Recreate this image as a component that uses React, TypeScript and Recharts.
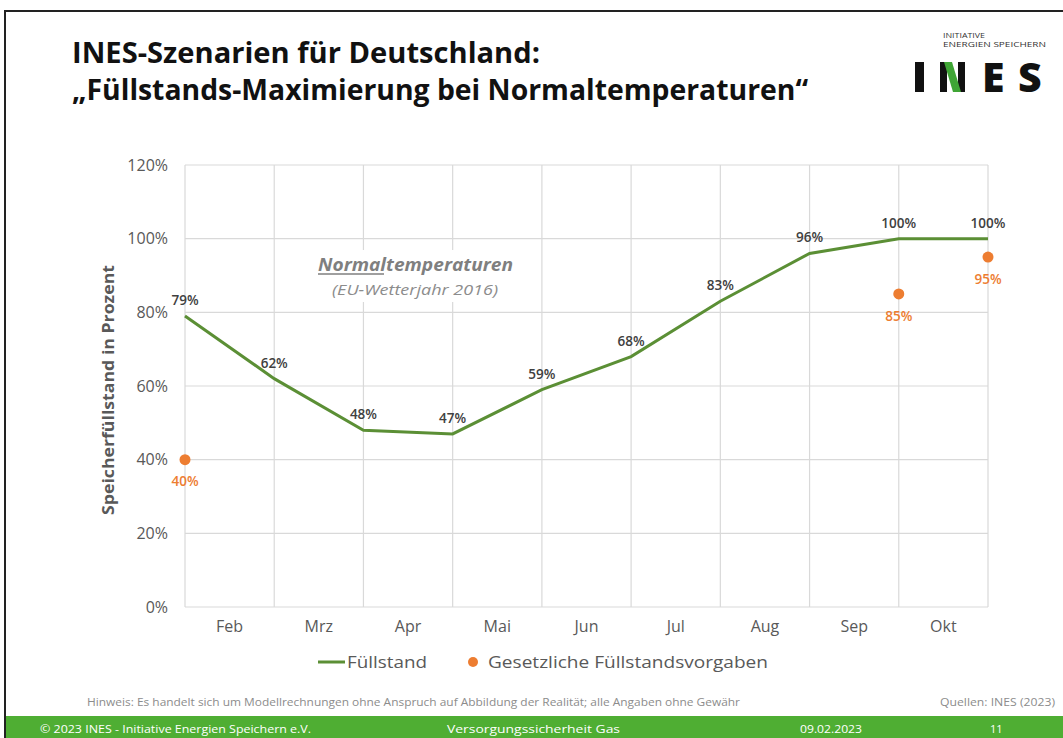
import React from 'react';
import {
  ComposedChart,
  Line,
  XAxis,
  YAxis,
  CartesianGrid,
  LabelList,
} from 'recharts';

const months = ['Feb', 'Mrz', 'Apr', 'Mai', 'Jun', 'Jul', 'Aug', 'Sep', 'Okt'];
const fuellstand = [79, 62, 48, 47, 59, 68, 83, 96, 100, 100];
const vorgaben: (number | null)[] = [40, null, null, null, null, null, null, null, 85, 95];
const yTicks = [0, 20, 40, 60, 80, 100, 120];

const data = fuellstand.map((v, i) => ({ idx: i, fuellstand: v, vorgabe: vorgaben[i] }));
const gridTicks = fuellstand.map((_, i) => i);
const monthTicks = months.map((_, i) => i + 0.5);

const GREEN = '#5b8f35';
const ORANGE = '#ED7D31';
const GRID = '#d9d9d9';
const FONT = '"Open Sans", sans-serif';

const pct = (v: any) => (v === null || v === undefined ? '' : `${v}%`);

// vertical grid lines sit on the data points (month boundaries)
const verticalLines = (props: any) => {
  const { xAxis, offset } = props;
  if (xAxis && typeof xAxis.scale === 'function') {
    return gridTicks.map((t) => xAxis.scale(t));
  }
  return gridTicks.map((t) => offset.left + (t / (gridTicks.length - 1)) * offset.width);
};

export default function App() {
  return (
    <div style={{ position: 'absolute', left: 0, top: 0, width: 1063, height: 738, background: '#fff', overflow: 'hidden', fontFamily: FONT }}>
      <div style={{ position: 'absolute', left: 0, top: 0 }}>
        <ComposedChart width={1063} height={738} data={data} margin={{ top: 165, right: 75, left: 125, bottom: 91 }}>
          <CartesianGrid stroke={GRID} strokeWidth={1.2} verticalCoordinatesGenerator={verticalLines} />
          <XAxis
            dataKey="idx"
            type="number"
            domain={[0, 9]}
            ticks={gridTicks}
            tick={false}
            tickLine={false}
            axisLine={{ stroke: GRID }}
            height={0}
          />
          <XAxis
            xAxisId="m"
            dataKey="idx"
            type="number"
            domain={[0, 9]}
            ticks={monthTicks}
            tickFormatter={(v: number) => months[Math.floor(v)]}
            tickLine={false}
            axisLine={false}
            tickMargin={8}
            height={40}
            tick={{ fill: '#595959', fontSize: 16, fontFamily: FONT }}
          />
          <YAxis
            type="number"
            domain={[0, 120]}
            ticks={yTicks}
            tickFormatter={(v: number) => `${v}%`}
            tickLine={false}
            axisLine={false}
            width={60}
            tickMargin={11}
            tick={{ fill: '#595959', fontSize: 16, fontFamily: FONT }}
          />
          <Line
            dataKey="fuellstand"
            stroke={GREEN}
            strokeWidth={3}
            dot={false}
            isAnimationActive={false}
          >
            <LabelList dataKey="fuellstand" position="top" offset={11} formatter={pct} fill="#404040" fontSize={13.5} fontWeight={600} fontFamily={FONT} />
          </Line>
          <Line
            dataKey="vorgabe"
            stroke="none"
            dot={{ r: 5.5, fill: ORANGE, stroke: 'none' }}
            activeDot={false}
            isAnimationActive={false}
          >
            <LabelList dataKey="vorgabe" position="bottom" offset={17} formatter={pct} fill={ORANGE} fontSize={13.5} fontWeight={600} fontFamily={FONT} />
          </Line>
        </ComposedChart>
      </div>

      <svg width={1063} height={738} style={{ position: 'absolute', left: 0, top: 0, pointerEvents: 'none' }}>
        {/* slide frame */}
        <path d="M5 738 L5 11 L1063 11" fill="none" stroke="#222" strokeWidth={2} />

        {/* title */}
        <text x={72} y={63} fontFamily={FONT} fontWeight={700} fontSize={29} fill="#111" textLength={468} lengthAdjust="spacingAndGlyphs">
          INES-Szenarien für Deutschland:
        </text>
        <text x={72} y={100} fontFamily={FONT} fontWeight={700} fontSize={29} fill="#111" textLength={736} lengthAdjust="spacingAndGlyphs">
          „Füllstands-Maximierung bei Normaltemperaturen“
        </text>

        {/* logo */}
        <text x={943} y={38} fontFamily={FONT} fontSize={7} fill="#333" textLength={42} lengthAdjust="spacingAndGlyphs">INITIATIVE</text>
        <text x={943} y={47} fontFamily={FONT} fontSize={7} fill="#333" textLength={103} lengthAdjust="spacingAndGlyphs">ENERGIEN SPEICHERN</text>
        <rect x={915} y={62} width={9} height={30} fill="#111" />
        <rect x={940} y={62} width={7} height={30} fill="#111" />
        <rect x={958} y={62} width={7} height={30} fill="#111" />
        <polygon points="944,62 952,62 961,92 953,92" fill="#3fa535" />
        <text x={982} y={92} fontFamily={FONT} fontWeight={800} fontSize={41} fill="#111">E</text>
        <text x={1018} y={92} fontFamily={FONT} fontWeight={800} fontSize={41} fill="#111">S</text>

        {/* annotation */}
        <rect x={306} y={250} width={220} height={52} fill="#fff" />
        <text x={318} y={271} fontFamily={FONT} fontWeight={700} fontStyle="italic" fontSize={18} fill="#7f7f7f" textLength={195} lengthAdjust="spacingAndGlyphs">
          Normaltemperaturen
        </text>
        <line x1={318} y1={274} x2={384} y2={274} stroke="#7f7f7f" strokeWidth={1.5} />
        <text x={332} y={295} fontFamily={FONT} fontStyle="italic" fontSize={15} fill="#8c8c8c" textLength={166} lengthAdjust="spacingAndGlyphs">
          (EU-Wetterjahr 2016)
        </text>

        {/* y axis title */}
        <text
          x={0}
          y={0}
          transform="translate(114 390) rotate(-90)"
          textAnchor="middle"
          fontFamily={FONT}
          fontWeight={700}
          fontSize={16}
          fill="#595959"
          textLength={250}
          lengthAdjust="spacingAndGlyphs"
        >
          Speicherfüllstand in Prozent
        </text>

        {/* legend */}
        <line x1={318} y1={662} x2={345} y2={662} stroke={GREEN} strokeWidth={3} />
        <text x={347} y={668} fontFamily={FONT} fontSize={17} fill="#595959" textLength={80} lengthAdjust="spacingAndGlyphs">Füllstand</text>
        <circle cx={473} cy={662} r={5} fill={ORANGE} />
        <text x={488} y={668} fontFamily={FONT} fontSize={17} fill="#595959" textLength={280} lengthAdjust="spacingAndGlyphs">Gesetzliche Füllstandsvorgaben</text>

        {/* notes */}
        <text x={87} y={706} fontFamily={FONT} fontSize={10} fill="#8c8c8c" textLength={653} lengthAdjust="spacingAndGlyphs">
          Hinweis: Es handelt sich um Modellrechnungen ohne Anspruch auf Abbildung der Realität; alle Angaben ohne Gewähr
        </text>
        <text x={940} y={706} fontFamily={FONT} fontSize={10} fill="#8c8c8c" textLength={115} lengthAdjust="spacingAndGlyphs">
          Quellen: INES (2023)
        </text>

        {/* footer bar */}
        <rect x={6} y={716} width={1057} height={22} fill="#4fae33" />
        <text x={40} y={733} fontFamily={FONT} fontSize={11} fill="#fff" textLength={271} lengthAdjust="spacingAndGlyphs">
          © 2023 INES - Initiative Energien Speichern e.V.
        </text>
        <text x={447} y={733} fontFamily={FONT} fontSize={11} fill="#fff" textLength={173} lengthAdjust="spacingAndGlyphs">
          Versorgungssicherheit Gas
        </text>
        <text x={800} y={733} fontFamily={FONT} fontSize={11} fill="#fff" textLength={62} lengthAdjust="spacingAndGlyphs">
          09.02.2023
        </text>
        <text x={990} y={733} fontFamily={FONT} fontSize={11} fill="#fff">11</text>
      </svg>
    </div>
  );
}
